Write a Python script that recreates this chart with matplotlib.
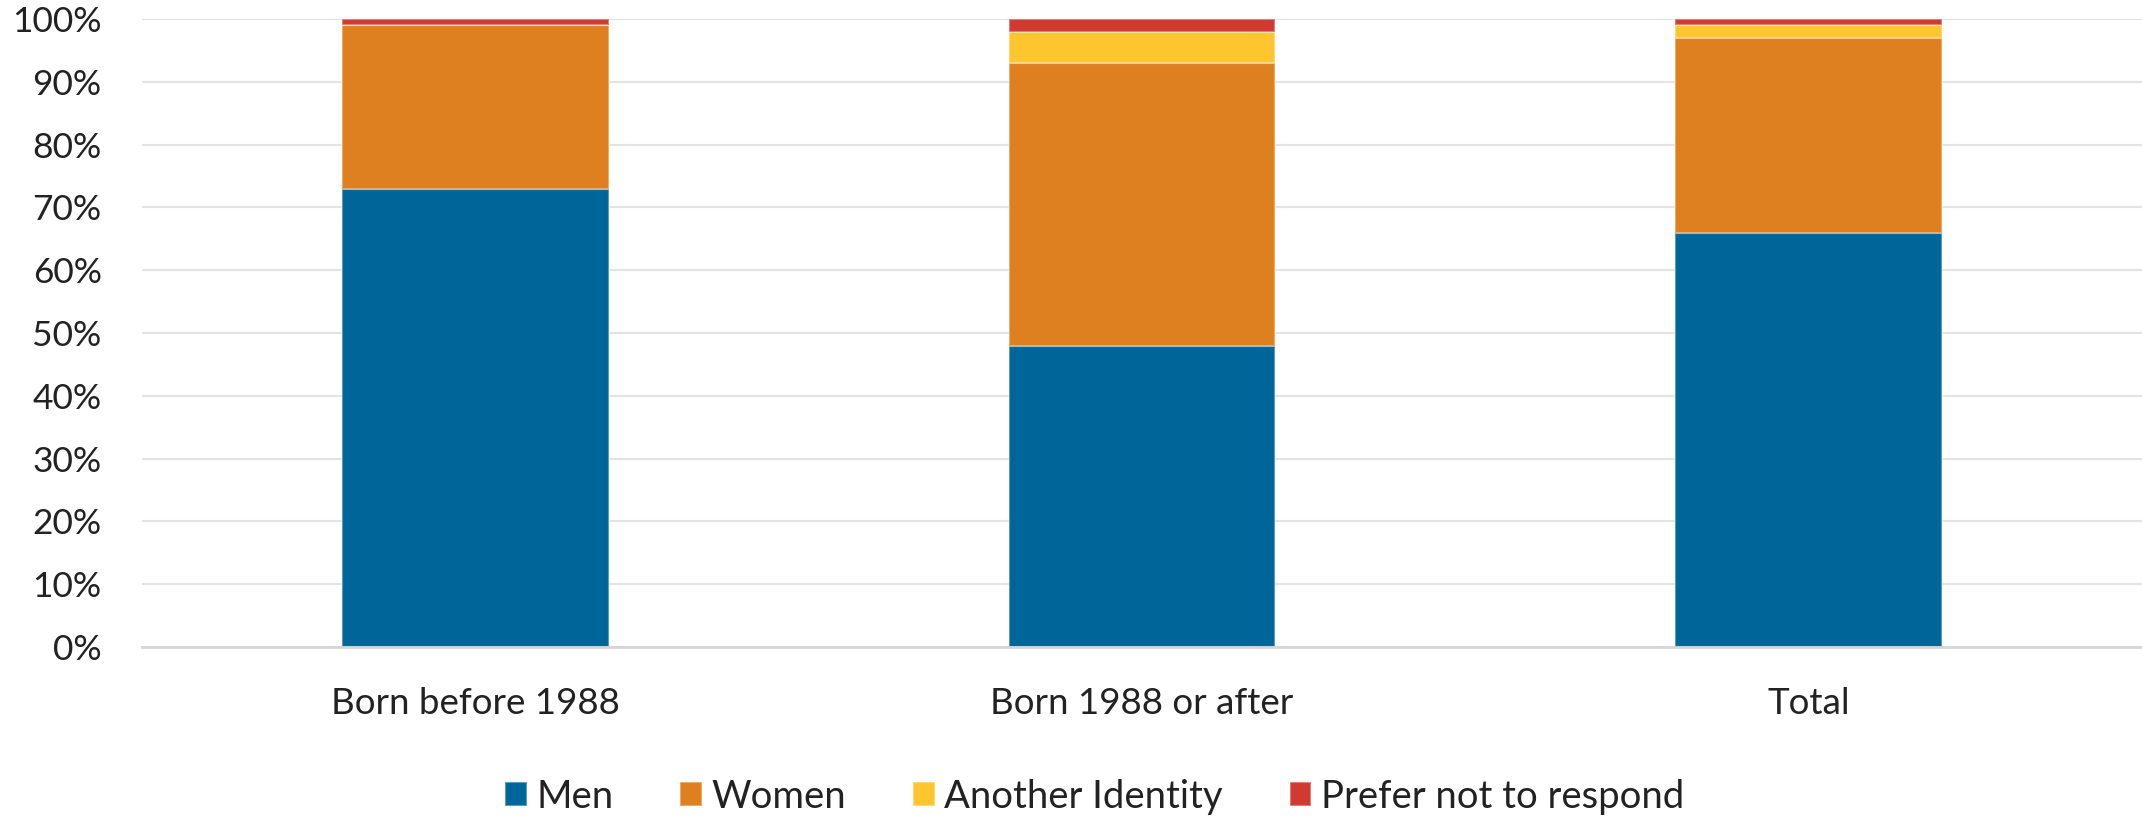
import numpy as np
import matplotlib
matplotlib.use("Agg")
import matplotlib.pyplot as plt
from matplotlib.ticker import PercentFormatter

# Parts par tranche (en %)
categories = ["Born before 1988", "Born 1988 or after", "Total"]
men = [73, 48, 66]
women = [26, 45, 31]
another = [0, 5, 2]
prefer_not = [1, 2, 1]

series_names = ["Men", "Women", "Another Identity", "Prefer not to respond"]
series_colors = ["#006699", "#DF8020", "#FDC62F", "#D03A30"]

plt.rcParams["font.family"] = ["Lato", "DejaVu Sans"]
text_color = "#222222"

fig = plt.figure(figsize=(21.42, 8.18), dpi=100)
ax = fig.add_axes([142 / 2142, 1 - 647 / 818, 1 - 142 / 2142, (647 - 19) / 818])

x = np.arange(len(categories))
bottom = np.zeros(len(categories))
for name, vals, col in zip(series_names, [men, women, another, prefer_not], series_colors):
    vals = np.array(vals, dtype=float) / 100
    ax.bar(x, vals, width=0.4, bottom=bottom, color=col, label=name,
           edgecolor=(1, 1, 1, 0.35), linewidth=1.5, zorder=3)
    bottom += vals

ax.set_xlim(-0.5, 2.5)
ax.set_ylim(0, 1)
ax.set_yticks(np.arange(0, 1.01, 0.1))
ax.yaxis.set_major_formatter(PercentFormatter(1.0, decimals=0))
ax.set_xticks(x)
ax.set_xticklabels(categories)

ax.grid(axis="y", color="#e3e3e3", linewidth=1.5, zorder=0)
for s in ["top", "right", "left"]:
    ax.spines[s].set_visible(False)
ax.spines["bottom"].set_color("#d6d6d6")
ax.spines["bottom"].set_linewidth(2)
ax.spines["bottom"].set_zorder(4)

ax.tick_params(axis="y", length=0, pad=29, labelsize=25.5, labelcolor=text_color)
ax.tick_params(axis="x", length=0, pad=29, labelsize=26.5, labelcolor=text_color)

fig.legend(loc="center", bbox_to_anchor=(0.511, 0.026), ncol=4, frameon=False,
           fontsize=27.5, handlelength=0.57, handleheight=0.57, handletextpad=0.25,
           columnspacing=1.75, labelcolor=text_color)

fig.savefig("out.png", dpi=100)
